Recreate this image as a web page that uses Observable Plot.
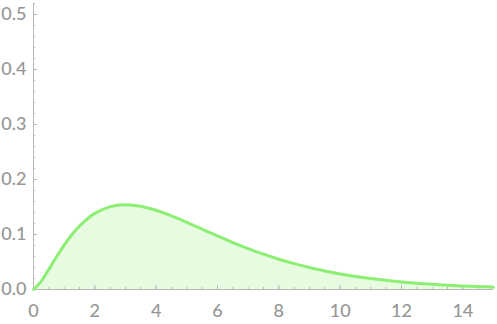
<!DOCTYPE html>
<html><head><meta charset="utf-8">
<script src="https://cdn.jsdelivr.net/npm/d3@7"></script>
<script src="https://cdn.jsdelivr.net/npm/@observablehq/plot@0.6"></script>
<style>body{margin:0;background:#fff}</style>
</head><body><div id="chart"></div>
<script>
const xs = [0,0.25,0.5,0.75,1,1.25,1.5,1.75,2,2.5,3,3.5,4,4.5,5,5.5,6,6.5,7,7.5,8,8.5,9,9.5,10,11,12,13,14,15];
const ys = [0,0.0147,0.0366,0.0594,0.0807,0.0995,0.1154,0.1283,0.1384,0.1506,0.1542,0.1513,0.1440,0.1338,0.1220,0.1097,0.0973,0.0854,0.0744,0.0642,0.0551,0.0470,0.0399,0.0337,0.0283,0.0198,0.0137,0.0094,0.0064,0.0043];
const xTicks = [0,2,4,6,8,10,12,14];
const yTicks = [0,0.1,0.2,0.3,0.4,0.5];
const yTickLabels = ["0.0","0.1","0.2","0.3","0.4","0.5"];
const xMinor = d3.range(0,15.01,0.5);
const yMinor = d3.range(0,0.521,0.02);

const data = xs.map((x,i)=>({x, y: ys[i]}));
const axisColor = "#b8b8b8";
const textColor = "#969696";

const chart = Plot.plot({
  width: 497, height: 324,
  marginLeft: 33, marginRight: 4, marginTop: 3, marginBottom: 35,
  x: {domain: [0,15]},
  y: {domain: [0,0.52]},
  style: {fontFamily: "Lato, sans-serif", fontSize: "18px", fontWeight: 500, color: textColor, background: "#fff"},
  marks: [
    Plot.areaY(data, {x:"x", y:"y", fill:"#e6fbe0", curve:"natural"}),
    Plot.ruleX([0], {stroke: axisColor, strokeWidth: 1}),
    Plot.ruleY([0], {stroke: axisColor, strokeWidth: 1}),
    Plot.axisX({ticks: xMinor, tickSize: -2, text: null, label: null, stroke: axisColor}),
    Plot.axisX({ticks: xTicks, tickSize: -4, text: null, label: null, stroke: axisColor}),
    Plot.axisX({ticks: xTicks, tickSize: 0, tickPadding: 15, label: null, fill: textColor}),
    Plot.axisY({ticks: yMinor, tickSize: -2, text: null, label: null, stroke: axisColor}),
    Plot.axisY({ticks: yTicks, tickSize: -4, text: null, label: null, stroke: axisColor}),
    Plot.axisY({ticks: yTicks, tickSize: 0, tickPadding: 7, label: null, fill: textColor, tickFormat: (d,i)=>yTickLabels[i]}),
    Plot.lineY(data, {x:"x", y:"y", stroke:"#8cef74", strokeWidth: 3, curve:"natural"})
  ]
});
document.getElementById("chart").append(chart);
</script>
</body></html>
